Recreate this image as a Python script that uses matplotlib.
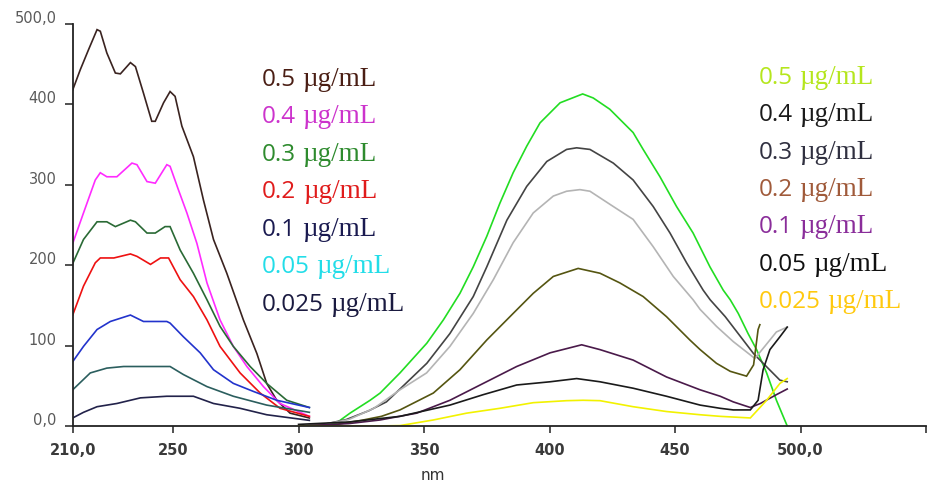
import matplotlib
matplotlib.use('Agg')
import matplotlib.pyplot as plt
from matplotlib.transforms import ScaledTranslation

# ---------------- data ----------------
# left band (UV region), concentrations in µg/mL
uv_05_nm = [210, 213, 216.3, 219.7, 221, 223.6, 227, 229, 233, 235, 238.2, 241.5, 242.9, 246.2,
            248.8, 250.8, 253.5, 258.1, 262.1, 266.1, 271.4, 278, 283.4, 287.3, 291.3, 296.6, 304.3]
uv_05_val = [418, 443, 468, 493, 491, 464, 439, 438, 452, 447, 414, 379, 379, 402,
             416, 410, 373, 335, 281, 232, 190, 132, 90, 53, 32, 16, 10]

uv_04_nm = [210, 214.3, 219, 221, 223.6, 227.6, 233.6, 235.6, 239.6, 242.9, 247.5, 248.8, 252.1,
            255.5, 259.5, 263.5, 268.7, 274, 279.4, 286, 292.6, 304.3]
uv_04_val = [227, 265, 306, 315, 310, 310, 327, 325, 304, 302, 325, 323, 294,
             265, 227, 178, 132, 99, 74, 49, 28, 12]

uv_03_nm = [210, 214.3, 219.7, 223.6, 227, 233, 235, 239.6, 242.9, 246.8, 248.8, 252.8, 258.1,
            263.5, 268.7, 274, 280.7, 287.3, 295.3, 304.3]
uv_03_val = [202, 232, 254, 254, 248, 256, 254, 240, 240, 248, 248, 219, 190,
             157, 124, 99, 74, 53, 32, 23]

uv_02_nm = [210, 214.3, 219, 221, 226.4, 233, 235.6, 241, 245, 248.2, 252.8, 258.1, 263.5,
            268.7, 276.7, 284.7, 292.6, 304.3]
uv_02_val = [138, 174, 203, 209, 209, 214, 211, 201, 209, 209, 182, 161, 132,
             99, 66, 41, 22, 12]

uv_01_nm = [210, 214.3, 219.7, 225, 233, 238.2, 247.5, 248.8, 254.1, 260.8, 266.1, 274, 282, 291.3, 304.3]
uv_01_val = [80, 99, 120, 130, 138, 130, 130, 128, 111, 91, 70, 53, 43, 32, 23]

uv_005_nm = [210, 217, 223.6, 230.3, 248.8, 254.1, 263.5, 274, 287.3, 304.3]
uv_005_val = [45, 66, 72, 74, 74, 64, 49, 37, 26, 17]

uv_0025_nm = [210, 214.3, 219.7, 227.6, 237, 247.5, 258.1, 266.1, 276.7, 287.3, 304.3]
uv_0025_val = [10, 17, 24, 28, 35, 37, 37, 28, 22, 14, 7]

# right band (visible region)
vis_05_nm = [304.6, 310, 315.2, 320.5, 328.5, 332.5, 340.4, 351.1, 357.7, 364.3, 369.6, 375, 380.2,
             385.5, 390.9, 396.2, 404.2, 413.2, 417.4, 424, 433.3, 437.3, 444, 450.6, 457.2, 463.9,
             469.2, 472, 475.2, 479.1, 482.5, 486.5, 490.4, 494.7]
vis_05_val = [0, 1, 4, 16, 32, 41, 66, 103, 132, 165, 198, 236, 277,
              315, 348, 377, 402, 413, 408, 394, 365, 344, 310, 273, 240, 198,
              169, 157, 140, 115, 95, 66, 32, 0]

vis_04_nm = [301, 310, 319, 328, 335, 340.4, 351.1, 360.3, 369.6, 375, 383, 390.9, 398.9, 406.8,
             410.8, 416.1, 425.4, 433.3, 441.3, 448, 454.6, 461.2, 464, 470, 481.3, 491.8, 494.7]
vis_04_val = [0, 2, 8, 19, 30, 46, 78, 115, 161, 198, 256, 298, 329, 344,
              346, 344, 327, 306, 273, 240, 203, 169, 157, 136, 90, 57, 55]

vis_03_nm = [301, 310, 320, 330, 340.4, 351, 360.3, 369.6, 377.6, 385.5, 393.5, 401.5, 406.8, 412.1,
             416.1, 425.4, 433.3, 441.3, 449.3, 457.2, 460, 466.5, 473.2, 481.8, 486, 490.4, 494.7]
vis_03_val = [0, 2, 8, 22, 45, 66, 99, 140, 182, 228, 265, 286, 292, 294,
              292, 273, 257, 223, 186, 157, 145, 124, 105, 84, 100, 117, 123]

vis_02_nm = [301, 315, 325, 333, 340.4, 353.7, 364.3, 375, 385.5, 393.5, 401.5, 411.4, 420.1, 428,
             437.3, 446.6, 455.9, 460, 466.5, 472, 478.5, 481.3, 483.1, 483.8]
vis_02_val = [0, 2, 7, 12, 20, 41, 70, 107, 140, 165, 186, 196, 190, 178,
              161, 136, 107, 95, 78, 68, 62, 76, 120, 126]

vis_01_nm = [301, 320, 332.5, 347.1, 360.3, 373.6, 386.9, 400.2, 412.8, 420.1, 433.3, 446.6, 460,
             468, 473.2, 480, 484, 490.4, 494.7]
vis_01_val = [0, 3, 7.5, 16, 32, 53, 74, 91, 101, 95, 82, 61, 45,
              37, 30, 23, 28, 39, 46]

vis_005_nm = [300, 320, 340.4, 360.3, 373.6, 386.9, 400.2, 410.8, 420.1, 433.3, 446.6, 460, 468,
              473.2, 480, 483.1, 485.1, 487.8, 491.8, 494.7]
vis_005_val = [2, 5, 12, 26, 39, 51, 55, 59, 55, 47, 37, 26, 22,
               20, 20, 32, 70, 95, 111, 123]

vis_0025_nm = [300, 330, 340.4, 353.7, 367, 380.2, 393.5, 406.8, 413.4, 420.1, 433.3, 446.6, 460,
               468, 480, 486.5, 491.8, 494.7]
vis_0025_val = [0, 0, 0.5, 7.5, 16, 22, 29, 31.5, 32, 31.5, 24, 18, 14,
                12, 10, 32, 53, 59]

conc_numbers = ["0.5", "0.4", "0.3", "0.2", "0.1", "0.05", "0.025"]
unit_label = "µg/mL"

xtick_vals = [210, 250, 300, 350, 400, 450, 500, 550]
xtick_labels = ["210,0", "250", "300", "350", "400", "450", "500,0", ""]
ytick_vals = [0, 100, 200, 300, 400, 500]
ytick_labels = ["0,0", "100", "200", "300", "400", "500,0"]
x_title = "nm"

# ---------------- styles ----------------
uv_series = [(uv_05_nm, uv_05_val), (uv_04_nm, uv_04_val), (uv_03_nm, uv_03_val),
             (uv_02_nm, uv_02_val), (uv_01_nm, uv_01_val), (uv_005_nm, uv_005_val),
             (uv_0025_nm, uv_0025_val)]
uv_colors = ["#3a2320", "#ff2bff", "#2a6a35", "#ee1111", "#2233cc", "#2b5e5e", "#22224a"]

vis_series = [(vis_05_nm, vis_05_val), (vis_04_nm, vis_04_val), (vis_03_nm, vis_03_val),
              (vis_02_nm, vis_02_val), (vis_01_nm, vis_01_val), (vis_005_nm, vis_005_val),
              (vis_0025_nm, vis_0025_val)]
vis_colors = ["#22dd22", "#444444", "#b4b4b4", "#555511", "#4a1a4a", "#1a1a1a", "#f2f200"]

left_text_colors = ["#4a1e14", "#cc33cc", "#2e8b2e", "#e01b1b", "#1a1a50", "#22dde8", "#1a1a40"]
right_text_colors = ["#b5e61d", "#1a1a1a", "#303040", "#a05a3a", "#8a2d9a", "#101010", "#ffc90e"]

W, H = 928, 488
fig = plt.figure(figsize=(W / 100, H / 100), dpi=100)
fig.patch.set_facecolor("white")
ax = fig.add_axes([72.7 / W, 1 - 426 / H, (926 - 72.7) / W, (426 - 24) / H])

for (x, y), c in zip(uv_series, uv_colors):
    ax.plot(x, y, color=c, lw=1.2, solid_joinstyle="miter")
for (x, y), c in zip(vis_series, vis_colors):
    ax.plot(x, y, color=c, lw=1.2, solid_joinstyle="miter")

ax.set_xlim(210, 550)
ax.set_ylim(0, 500)
for s in ["top", "right"]:
    ax.spines[s].set_visible(False)
for s in ["left", "bottom"]:
    ax.spines[s].set_linewidth(1.3)
    ax.spines[s].set_color("#222222")

ax.set_xticks(xtick_vals)
ax.set_xticklabels(xtick_labels, fontsize=10.5, fontweight="bold", color="#3a3a3a",
                   family="DejaVu Sans")
ax.set_yticks(ytick_vals)
ax.set_yticklabels(ytick_labels, fontsize=10.5, color="#5a5a5a", family="DejaVu Sans")
ax.tick_params(axis="x", direction="out", length=5, width=1.1, color="#222222", pad=7)
ax.tick_params(axis="y", direction="out", length=5.5, width=1.1, color="#222222", pad=6)

shift_up = ScaledTranslation(0, 0.07, fig.dpi_scale_trans)
for lbl in ax.get_yticklabels():
    lbl.set_transform(lbl.get_transform() + shift_up)

fig.text(433 / W, 1 - 475 / H, x_title, ha="center", va="center", fontsize=11,
         color="#333333", family="DejaVu Sans")


def legend_column(x_px, y0_px, colors):
    for i, (num, col) in enumerate(zip(conc_numbers, colors)):
        yb = y0_px + i * 37.5
        t = fig.text(x_px / W, 1 - yb / H, num, ha="left", va="baseline", fontsize=17.5,
                     color=col, family="Open Sans")
        ax.annotate(unit_label, xy=(1, 0), xycoords=t, xytext=(5, 0),
                    textcoords="offset points", ha="left", va="bottom", fontsize=19.5,
                    color=col, family="Liberation Serif")


legend_column(261.5, 85.7, left_text_colors)
legend_column(758.3, 83.5, right_text_colors)

fig.savefig("out.png", dpi=100, facecolor="white")
